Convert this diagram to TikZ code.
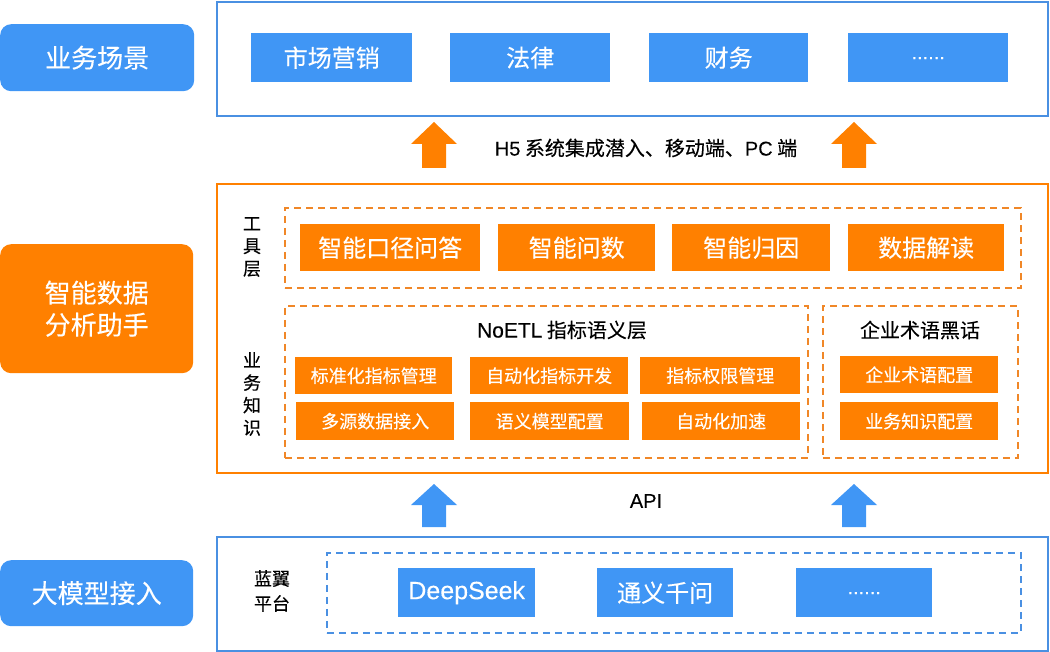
\documentclass[tikz,border=0pt]{standalone}
\usepackage{fontspec}
\setmainfont[FakeBold=0.25]{Noto Sans CJK SC}
\newfontfamily\latinf[FakeBold=0.15]{Liberation Sans}
\begin{document}
\definecolor{bfill}{RGB}{64,150,245}
\definecolor{bline}{RGB}{74,144,226}
\definecolor{ofill}{RGB}{255,128,0}
\definecolor{oline}{RGB}{255,128,0}
\definecolor{odash}{RGB}{240,135,40}
\begin{tikzpicture}[x=1pt,y=-1pt,
  sidelab/.style={rounded corners=11pt, text=white, font=\fontsize{26}{32}\selectfont, align=center, inner sep=0pt, anchor=north west},
  btn/.style={text=white, inner sep=0pt, anchor=north west},
  bbtn/.style={btn, fill=bfill, font=\fontsize{24}{26}\selectfont},
  obtn/.style={btn, fill=ofill, font=\fontsize{24}{26}\selectfont},
  sbtn/.style={btn, fill=ofill, font=\fontsize{18}{20}\selectfont},
  frame/.style={line width=2pt, inner sep=0pt, anchor=north west},
  dbox/.style={line width=1.6pt, dash pattern=on 7pt off 5pt, inner sep=0pt, anchor=north west},
  lab/.style={text=black, inner sep=0pt},
  vlab/.style={lab, font=\fontsize{18}{22.5}\selectfont, align=center},
  dots/.style={font=\latinf\fontsize{20}{24}\selectfont},
]
\useasboundingbox (0,0) rectangle (1050,652);
% left labels
\node[sidelab, fill=bfill, minimum width=194pt, minimum height=67pt] (l1) at (0,24) {业务场景};
\node[sidelab, fill=ofill, minimum width=193pt, minimum height=129pt] (l2) at (0,244) {智能数据\\分析助手};
\node[sidelab, fill=bfill, minimum width=193pt, minimum height=66pt] (l3) at (0,560) {大模型接入};
% frames
\node[frame, draw=bline, minimum width=831pt, minimum height=114pt] (top) at (216,1) {};
\node[frame, draw=oline, minimum width=831pt, minimum height=288pt] (mid) at (216,183.5) {};
\node[frame, draw=bline, minimum width=831pt, minimum height=114pt] (bot) at (216,536) {};
% top buttons
\node[bbtn, minimum width=161pt, minimum height=49pt] (s1) at (251,33) {市场营销};
\node[bbtn, minimum width=160pt, minimum height=49pt] (s2) at (450,33) {法律};
\node[bbtn, minimum width=159pt, minimum height=49pt] (s3) at (649,33) {财务};
\node[bbtn, dots, minimum width=160pt, minimum height=49pt] (s4) at (848,33) {\raisebox{-3pt}{......}};
% orange arrows
\foreach \cx in {434,854}{
  \fill[ofill] (\cx-12,168) -- (\cx-12,144) -- (\cx-23,144) -- (\cx,122) -- (\cx+23,144) -- (\cx+12,144) -- (\cx+12,168) -- cycle;
}
\node[lab, font=\fontsize{20}{22}\selectfont] (h5) at (646,148) {{\latinf H5} 系统集成潜入、移动端、{\latinf PC} 端};
% middle
\node[vlab] (gjc) at (252,247) {工\\具\\层};
\node[vlab] (ywzs) at (252,394) {业\\务\\知\\识};
\node[dbox, draw=odash, minimum width=736pt, minimum height=80pt] (tool) at (284,207) {};
\node[obtn, minimum width=180pt, minimum height=47pt] (t1) at (300,224) {智能口径问答};
\node[obtn, minimum width=157pt, minimum height=47pt] (t2) at (498,224) {智能问数};
\node[obtn, minimum width=158pt, minimum height=47pt] (t3) at (672,224) {智能归因};
\node[obtn, minimum width=156pt, minimum height=47pt] (t4) at (848,224) {数据解读};
\node[dbox, draw=odash, minimum width=523pt, minimum height=152pt] (noetl) at (284,305) {};
\node[lab, font=\fontsize{20}{22}\selectfont] (nt) at (562,330) {{\latinf\fontsize{21}{22}\selectfont NoETL} 指标语义层};
\node[sbtn, minimum width=157pt, minimum height=37pt] (n1) at (295,357) {标准化指标管理};
\node[sbtn, minimum width=158pt, minimum height=37pt] (n2) at (470,357) {自动化指标开发};
\node[sbtn, minimum width=160pt, minimum height=37pt] (n3) at (640,357) {指标权限管理};
\node[sbtn, minimum width=158pt, minimum height=38pt] (n4) at (296,402) {多源数据接入};
\node[sbtn, minimum width=159pt, minimum height=38pt] (n5) at (470,402) {语义模型配置};
\node[sbtn, minimum width=158pt, minimum height=38pt] (n6) at (642,402) {自动化加速};
\node[dbox, draw=odash, minimum width=195pt, minimum height=152pt] (term) at (822,305) {};
\node[lab, font=\fontsize{20}{22}\selectfont] (tt) at (920,330) {企业术语黑话};
\node[sbtn, minimum width=158pt, minimum height=37pt] (e1) at (840,356) {企业术语配置};
\node[sbtn, minimum width=158pt, minimum height=38pt] (e2) at (840,402) {业务知识配置};
% blue arrows
\foreach \cx in {434,854}{
  \fill[bfill] (\cx-12,527) -- (\cx-12,505) -- (\cx-23,505) -- (\cx,484) -- (\cx+23,505) -- (\cx+12,505) -- (\cx+12,527) -- cycle;
}
\node[lab, font=\latinf\fontsize{20}{22}\selectfont] (api) at (646,501) {API};
% bottom
\node[lab, font=\fontsize{18}{25}\selectfont, align=center] (ly) at (272,591) {蓝翼\\平台};
\node[dbox, draw=bline, minimum width=694pt, minimum height=80pt] (llm) at (326,552) {};
\node[bbtn, font=\latinf\fontsize{25}{26}\selectfont, minimum width=137pt, minimum height=49pt] (m1) at (398,568) {DeepSeek};
\node[bbtn, minimum width=136pt, minimum height=49pt] (m2) at (597,568) {通义千问};
\node[bbtn, dots, minimum width=136pt, minimum height=49pt] (m3) at (796,568) {\raisebox{-3pt}{......}};
\end{tikzpicture}
\end{document}
